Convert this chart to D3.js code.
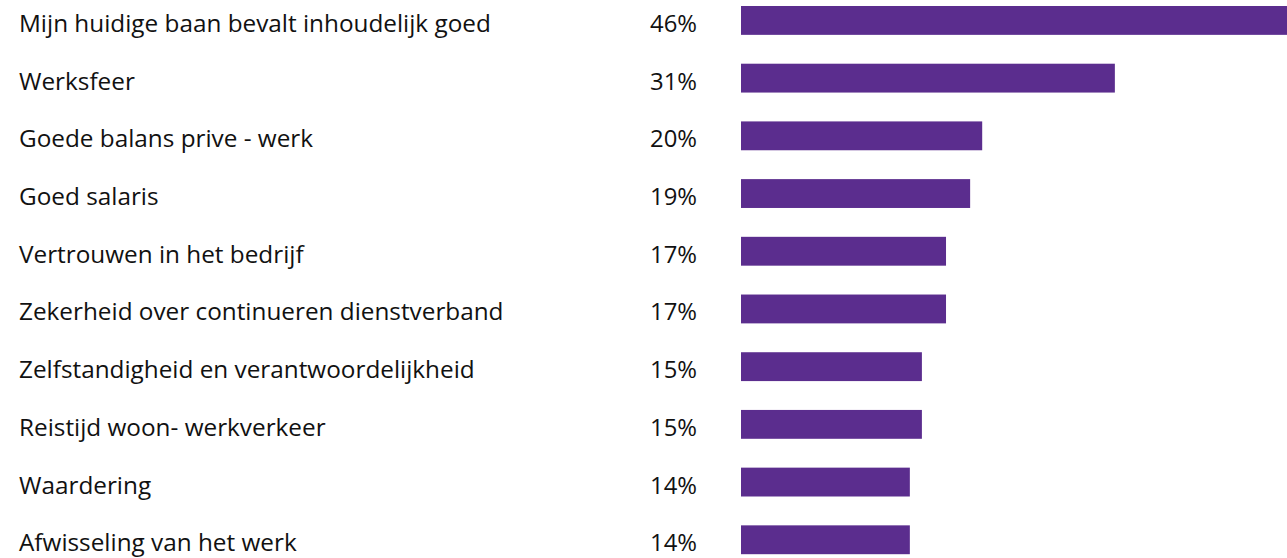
<!DOCTYPE html>
<html>
<head>
<meta charset="utf-8">
<script src="https://cdn.jsdelivr.net/npm/d3@7"></script>
<style>
  html, body { margin: 0; padding: 0; background: #fff; overflow: hidden; }
  svg { display: block; }
  text { font-family: "Open Sans", "Noto Sans", sans-serif; fill: #111; font-variant-ligatures: none; }
</style>
</head>
<body>
<svg id="chart" width="1287" height="558"></svg>
<script>
const categories = [
  "Mijn huidige baan bevalt inhoudelijk goed",
  "Werksfeer",
  "Goede balans prive - werk",
  "Goed salaris",
  "Vertrouwen in het bedrijf",
  "Zekerheid over continueren dienstverband",
  "Zelfstandigheid en verantwoordelijkheid",
  "Reistijd woon- werkverkeer",
  "Waardering",
  "Afwisseling van het werk"
];
const values = [46, 31, 20, 19, 17, 17, 15, 15, 14, 14];
const valueLabels = ["46%", "31%", "20%", "19%", "17%", "17%", "15%", "15%", "14%", "14%"];

const svg = d3.select("#chart");

const x = d3.scaleLinear().domain([0, 50]).range([741, 741 + 603]);
const y = d3.scaleBand().domain(categories).range([6, 554.2]).paddingInner(0.5).paddingOuter(0);

const rows = categories.map((c, i) => ({ cat: c, v: values[i], lbl: valueLabels[i] }));

svg.selectAll("rect.bar").data(rows).join("rect")
  .attr("class", "bar")
  .attr("x", x(0))
  .attr("y", d => y(d.cat))
  .attr("width", d => x(d.v) - x(0))
  .attr("height", y.bandwidth())
  .attr("fill", "#5b2d8e");

const labels = svg.selectAll("text.cat").data(rows).join("text")
  .attr("class", "cat")
  .attr("x", 19)
  .attr("y", d => y(d.cat) + y.bandwidth() / 2 + 11.5)
  .attr("font-size", 20)
  .text(d => d.cat);

const vals = svg.selectAll("text.val").data(rows).join("text")
  .attr("class", "val")
  .attr("x", 697)
  .attr("y", d => y(d.cat) + y.bandwidth() / 2 + 11.5)
  .attr("text-anchor", "end")
  .attr("font-size", 20)
  .attr("font-weight", 500)
  .text(d => d.lbl);

// fit text widths to the reference
const w0 = labels.node().getComputedTextLength();
svg.selectAll("text.cat").attr("font-size", 20 * 472 / w0);
const wv = vals.node().getComputedTextLength();
svg.selectAll("text.val").attr("font-size", 20 * 47 / wv);
</script>
</body>
</html>
